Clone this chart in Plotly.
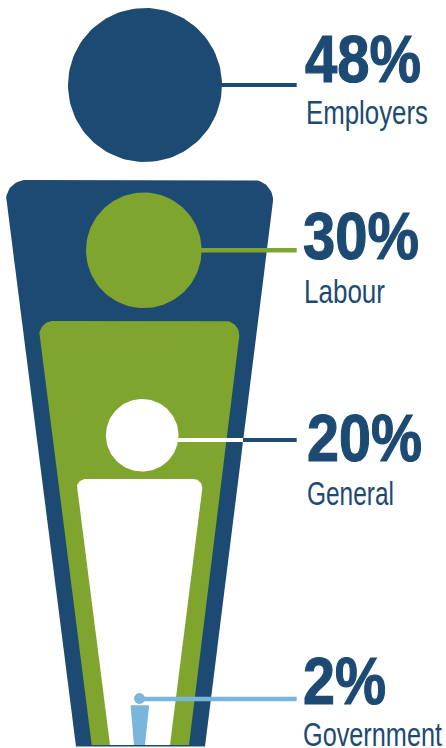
import numpy as np
import plotly.graph_objects as go

# Shares of the contribution, outermost figure first
groups = ["Employers", "Labour", "General", "Government"]
shares = [48, 30, 20, 2]

NAVY = "#1c4a73"
GREEN = "#7fa52e"
WHITE = "#ffffff"
SKY = "#7ab6da"

# Nested figures: head (cx, cy, r) and tapered body (top, bottom, widths, corner)
figures = [
    dict(color=NAVY, head=(145, 85, 77), top=180, bottom=746.5,
         tl=6, tr=273, bl=76, br=205, corner=20),
    dict(color=GREEN, head=(143.8, 250.3, 57.8), top=321, bottom=745,
         tl=39.3, tr=239.3, bl=91.7, br=189, corner=14),
    dict(color=WHITE, head=(142.2, 435.3, 36.3), top=479, bottom=745,
         tl=76.7, tr=202.3, bl=110, br=170, corner=9),
    dict(color=SKY, head=(139.5, 698.5, 5.5), top=705.3, bottom=745,
         tl=130, tr=149, bl=134, br=145, corner=1),
]

# Leader segments per group: (x0, x1, y, width, colour)
leaders = [
    [(222, 296.7, 85, 4, NAVY)],
    [(201, 296.7, 250.3, 4.5, GREEN)],
    [(178, 243, 440, 4, WHITE), (243, 296.7, 440, 4, NAVY)],
    [(140, 296.7, 699, 4.5, SKY)],
]

# Label boxes: percentage (left, width, y centre), group name (left, width, y centre)
label_pos = [
    ((305, 116, 58), (306, 122, 112)),
    ((303, 116, 235), (304, 81, 291)),
    ((307, 115, 437.5), (307, 87, 493)),
    ((303, 83, 680), (303, 139, 734.5)),
]


def circle(cx, cy, r):
    t = np.linspace(0, 2 * np.pi, 121)
    return cx + r * np.cos(t), cy + r * np.sin(t)


def arc(cx, cy, r, a0, a1):
    t = np.radians(np.linspace(a0, a1, 16))
    return list(cx + r * np.cos(t)), list(cy + r * np.sin(t))


def body(f):
    """Tapered trunk with rounded shoulders."""
    r = f["corner"]
    lx, ly = arc(f["tl"] + r, f["top"] + r, r, 175, 270)
    rx, ry = arc(f["tr"] - r, f["top"] + r, r, 270, 365)
    xs = [f["bl"]] + lx + rx + [f["br"], f["bl"]]
    ys = [f["bottom"]] + ly + ry + [f["bottom"], f["bottom"]]
    return xs, ys


fig = go.Figure()


def filled(x, y, color):
    fig.add_trace(go.Scatter(x=x, y=y, mode="lines", fill="toself", fillcolor=color,
                             line=dict(width=0, color=color), hoverinfo="skip",
                             showlegend=False))


for f, segs in zip(figures, leaders):
    filled(*body(f), f["color"])
    filled(*circle(*f["head"]), f["color"])
    for x0, x1, y, w, c in segs:
        fig.add_trace(go.Scatter(x=[x0, x1], y=[y, y], mode="lines",
                                 line=dict(width=w, color=c), hoverinfo="skip",
                                 showlegend=False))

FONT = "Liberation Sans"
text_widths = []
for share, name, (pct, nm) in zip(shares, groups, label_pos):
    fig.add_annotation(x=pct[0] + pct[1] / 2, y=pct[2], text=f"{share}%", showarrow=False,
                       xanchor="center", yanchor="middle", width=pct[1] + 6, borderpad=0,
                       font=dict(family=FONT, size=67, weight="bold", color=NAVY))
    fig.add_annotation(x=nm[0] + nm[1] / 2, y=nm[2], text=name, showarrow=False,
                       xanchor="center", yanchor="middle", width=nm[1] + 4, borderpad=0,
                       font=dict(family=FONT, size=33, color=NAVY))
    text_widths += [pct[1], nm[1]]

fig.update_xaxes(range=[0, 446], visible=False, fixedrange=True)
fig.update_yaxes(range=[748, 0], visible=False, fixedrange=True)
fig.update_layout(width=446, height=748, margin=dict(l=0, r=0, t=0, b=0),
                  paper_bgcolor="white", plot_bgcolor="white", showlegend=False)

# Condense the label glyphs to their set widths, since no narrow face is available;
# the percentages also get a thin outline to reach a black weight
condense = """
var w = %s;
document.querySelectorAll('.annotation-text').forEach(function (el, i) {
  el.setAttribute('textLength', w[i]);
  el.setAttribute('lengthAdjust', 'spacingAndGlyphs');
  if (i %% 2 === 0) {
    el.style.stroke = '%s';
    el.style.strokeWidth = '1.2px';
  }
});
""" % (text_widths, NAVY)
fig.write_html("out.html", config=dict(displayModeBar=False), post_script=condense)
